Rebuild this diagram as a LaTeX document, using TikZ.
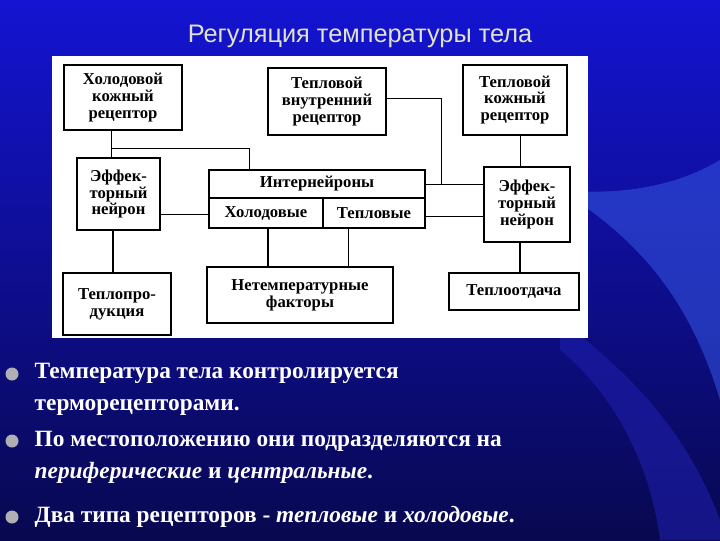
\documentclass[tikz,border=0pt]{standalone}
\usepackage{fontspec}
\setmainfont{Liberation Serif}
\newfontfamily\ttl{Liberation Sans}
\definecolor{bgtop}{RGB}{20,20,210}
\definecolor{bgbot}{RGB}{8,8,80}
\definecolor{wedge}{RGB}{50,80,220}
\definecolor{wedgeb}{RGB}{30,30,170}
\definecolor{ttlc}{RGB}{225,225,205}
\definecolor{bulc}{RGB}{175,175,180}
\begin{document}
\begin{tikzpicture}[x=0.75pt,y=-0.75pt,
 bx/.style={draw,line width=1.6pt,fill=white,align=center,inner sep=0pt,font=\bfseries\fontsize{12.5}{12.5}\selectfont},
 thin/.style={line width=0.6pt},
 thick2/.style={line width=1.8pt},
 bl/.style={anchor=west,text=white,font=\bfseries\fontsize{17.5}{24}\selectfont,align=left}]
\useasboundingbox (0,0) rectangle (720,540);
\shade[top color=bgtop,bottom color=bgbot] (0,0) rectangle (720,540);
\fill[wedge,opacity=0.6] (560,190) .. controls (640,240) and (690,300) .. (720,400) -- (720,160) .. controls (670,190) and (610,195) .. (560,190);
\fill[wedgeb,opacity=0.6] (560,320) .. controls (640,380) and (690,440) .. (720,520) -- (720,540) -- (660,540) .. controls (650,460) and (610,390) .. (560,350);
\node[text=ttlc,font=\ttl\fontsize{19}{20}\selectfont] (title) at (360,36) {Регуляция температуры тела};
\fill[white] (52,56) rectangle (588,338);
\node[bx,minimum width=118*0.75pt,minimum height=65*0.75pt] (csr) at (123,97.5) {Холодовой\\кожный\\рецептор};
\node[bx,minimum width=118*0.75pt,minimum height=67*0.75pt] (wir) at (327,101.5) {Тепловой\\внутренний\\рецептор};
\node[bx,minimum width=104*0.75pt,minimum height=70*0.75pt] (wsr) at (515,100) {Тепловой\\кожный\\рецептор};
\node[bx,minimum width=83*0.75pt,minimum height=72*0.75pt] (el) at (118.5,194) {Эффек-\\торный\\нейрон};
\node[bx,minimum width=86*0.75pt,minimum height=75*0.75pt] (er) at (527,204.5) {Эффек-\\торный\\нейрон};
\node[bx,minimum width=216*0.75pt,minimum height=28*0.75pt] (inter) at (317,184) {Интернейроны};
\node[bx,minimum width=114*0.75pt,minimum height=30*0.75pt] (cold) at (266,213) {Холодовые};
\node[bx,minimum width=102*0.75pt,minimum height=30*0.75pt] (warm) at (374,213) {Тепловые};
\node[bx,minimum width=108*0.75pt,minimum height=62*0.75pt] (tp) at (117,304) {Теплопро-\\дукция};
\node[bx,minimum width=186*0.75pt,minimum height=56*0.75pt] (nt) at (300,295) {Нетемпературные\\факторы};
\node[bx,minimum width=130*0.75pt,minimum height=37*0.75pt] (to) at (514,291.5) {Теплоотдача};
\coordinate (j1) at (111,148);
\coordinate (j2) at (441,98);
\coordinate (j3) at (441,184);
\draw[thin] (csr.south -| j1) -- (el.north -| j1);
\draw[thin] (j1) -| (249,170);
\draw[thin] (wir.east |- j2) -- (j2) -- (j3);
\draw[thin] (inter.east) -- (er.west |- inter.east);
\draw[thin] (wsr.south -| 520,0) -- (er.north -| 520,0);
\draw[thin] (el.east |- 0,214) -- (cold.west |- 0,214);
\draw[thin] (warm.east |- 0,216) -- (er.west |- 0,216);
\draw[thick2] (el.south -| 113,0) -- (tp.north -| 113,0);
\draw[thick2] (cold.south -| 268,0) -- (nt.north -| 268,0);
\draw[thin] (warm.south -| 348,0) -- (nt.north -| 348,0);
\draw[thick2] (er.south -| 520,0) -- (to.north -| 520,0);
\foreach \y in {374,441,517}{\fill[bulc] (12,\y) circle (6.5);}
\node[bl] (t1) at (30,389) {Температура тела контролируется\\терморецепторами.};
\node[bl] (t2) at (30,457) {По местоположению они подразделяются на\\\textit{периферические} и \textit{центральные}.};
\node[bl] (t3) at (30,517) {Два типа рецепторов - \textit{тепловые} и \textit{холодовые}.};
\end{tikzpicture}
\end{document}
